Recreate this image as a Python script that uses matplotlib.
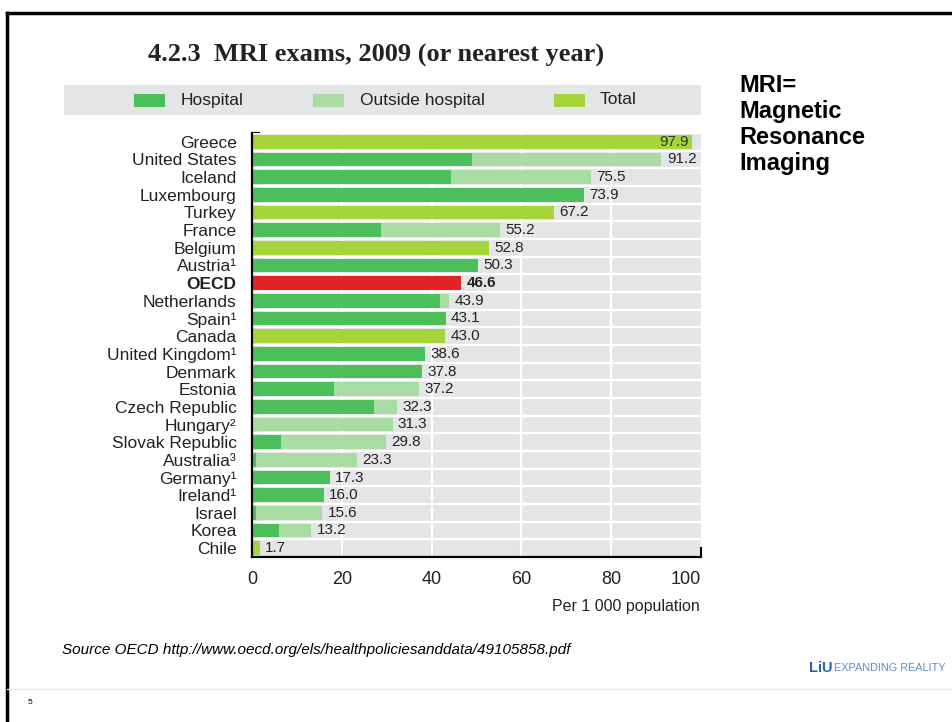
# MRI exams bar chart, OECD 2009
import numpy as np
import matplotlib.pyplot as plt
from matplotlib.patches import Rectangle
from matplotlib.lines import Line2D

# data (per 1 000 population)
countries = ['Greece', 'United States', 'Iceland', 'Luxembourg', 'Turkey', 'France',
             'Belgium', 'Austria¹', 'OECD', 'Netherlands', 'Spain¹', 'Canada',
             'United Kingdom¹', 'Denmark', 'Estonia', 'Czech Republic', 'Hungary²',
             'Slovak Republic', 'Australia³', 'Germany¹', 'Ireland¹', 'Israel', 'Korea', 'Chile']
totals = [97.9, 91.2, 75.5, 73.9, 67.2, 55.2, 52.8, 50.3, 46.6, 43.9, 43.1, 43.0,
          38.6, 37.8, 37.2, 32.3, 31.3, 29.8, 23.3, 17.3, 16.0, 15.6, 13.2, 1.7]
# hospital part; None = only a total is known
hospital = [None, 49.1, 44.4, 73.9, None, 28.7, None, 50.3, None, 41.9, 43.1, None,
            38.6, 37.8, 18.2, 27.1, 0.0, 6.4, 1.0, 17.3, 16.0, 0.8, 6.1, None]
ticks = [0, 20, 40, 60, 80, 100]

c_hosp = '#4cbf5b'
c_out = '#a9dca3'
c_tot = '#a4d63c'
c_oecd = '#e02428'
c_bg = '#e4e5e6'

sans = 'Liberation Sans'

fig = plt.figure(figsize=(9.52, 7.22), dpi=100)
W, H = 952, 722

def fx(px):
    return px / W

def fy(py):
    return 1 - py / H

# slide frame
fig.add_artist(Line2D([fx(7), 1], [fy(13), fy(13)], color='black', lw=2.5))
fig.add_artist(Line2D([fx(7), fx(7)], [fy(13), 0], color='black', lw=2.5))
fig.add_artist(Line2D([fx(7), 1], [fy(689), fy(689)], color='#e6e6e6', lw=1))

ax = fig.add_axes([fx(252), fy(557), fx(701) - fx(252), (557 - 133) / H])
ax.set_facecolor(c_bg)
n = len(countries)
y = np.arange(n)

for i in range(n):
    tot = totals[i]
    if countries[i] == 'OECD':
        ax.barh(i, tot, height=0.76, color=c_oecd, zorder=3)
    elif hospital[i] is None:
        ax.barh(i, tot, height=0.76, color=c_tot, zorder=3)
    else:
        ax.barh(i, hospital[i], height=0.76, color=c_hosp, zorder=3)
        ax.barh(i, tot - hospital[i], left=hospital[i], height=0.76, color=c_out, zorder=3)
    bold = 'bold' if countries[i] == 'OECD' else 'normal'
    if tot > 95:
        ax.text(tot - 0.6, i, f'{tot:.1f}', ha='right', va='center', fontsize=11,
                color='#333333', family=sans, zorder=4)
    else:
        ax.text(tot + 1.2, i, f'{tot:.1f}', ha='left', va='center', fontsize=11,
                color='#222222', family=sans, weight=bold, zorder=4)

for b in np.arange(n + 1) - 0.5:
    ax.axhline(b, color='white', lw=1.6, zorder=2)
for t in ticks[1:-1]:
    ax.axvline(t, color='white', lw=1.6, zorder=2)

ax.set_xlim(0, 100)
ax.set_ylim(n - 0.5, -0.5)
ax.set_yticks(y)
ax.set_yticklabels(countries, family=sans, fontsize=12.5, color='#222222')
for lab in ax.get_yticklabels():
    if lab.get_text() == 'OECD':
        lab.set_fontweight('bold')
ax.set_yticks(np.arange(n) - 0.5, minor=True)
ax.tick_params(axis='y', which='major', length=0, pad=11)
ax.tick_params(axis='y', which='minor', direction='in', length=6, width=1.5, color='black')
ax.set_xticks(ticks)
ax.set_xticklabels([str(t) for t in ticks], family=sans, fontsize=13, color='#222222')
ax.get_xticklabels()[-1].set_ha('right')
ax.tick_params(axis='x', direction='in', length=7, width=1.5, pad=10)
for s in ['top', 'right']:
    ax.spines[s].set_visible(False)
for s in ['left', 'bottom']:
    ax.spines[s].set_linewidth(1.6)
    ax.spines[s].set_zorder(5)

# title and legend box
fig.text(fx(148), fy(55), '4.2.3  MRI exams, 2009 (or nearest year)', family='Liberation Serif',
         fontsize=19, weight='bold', va='center', ha='left', color='#222222')
fig.add_artist(Rectangle((fx(64), fy(115)), fx(701) - fx(64), (115 - 85) / H,
                         facecolor=c_bg, edgecolor='none'))
leg = [('Hospital', c_hosp, 134, 181), ('Outside hospital', c_out, 313, 360), ('Total', c_tot, 554, 600)]
for name, col, sx, tx in leg:
    fig.add_artist(Rectangle((fx(sx), fy(107)), fx(31), 13 / H, facecolor=col, edgecolor='none'))
    fig.text(fx(tx), fy(100), name, family=sans, fontsize=12.5, va='center', color='#222222')

fig.text(fx(700), fy(606), 'Per 1 000 population', family=sans, fontsize=11.5,
         ha='right', va='center', color='#222222')

fig.text(fx(739), fy(74), 'MRI=\nMagnetic\nResonance\nImaging', family=sans,
         fontsize=17, weight='bold', va='top', ha='left', linespacing=1.16)

fig.text(fx(62), fy(650), 'Source OECD http://www.oecd.org/els/healthpoliciesanddata/49105858.pdf',
         family=sans, style='italic', fontsize=11, va='center', ha='left')

fig.text(fx(946), fy(668), 'EXPANDING REALITY', family=sans, fontsize=7.8,
         color='#5d8fcf', va='center', ha='right')
fig.text(fx(833), fy(668), 'LiU', family=sans, weight='bold', fontsize=10.5,
         color='#2a63a8', va='center', ha='right')
fig.text(fx(28), fy(702), '5', family=sans, fontsize=6, va='center')

fig.savefig('out.png', dpi=100)
